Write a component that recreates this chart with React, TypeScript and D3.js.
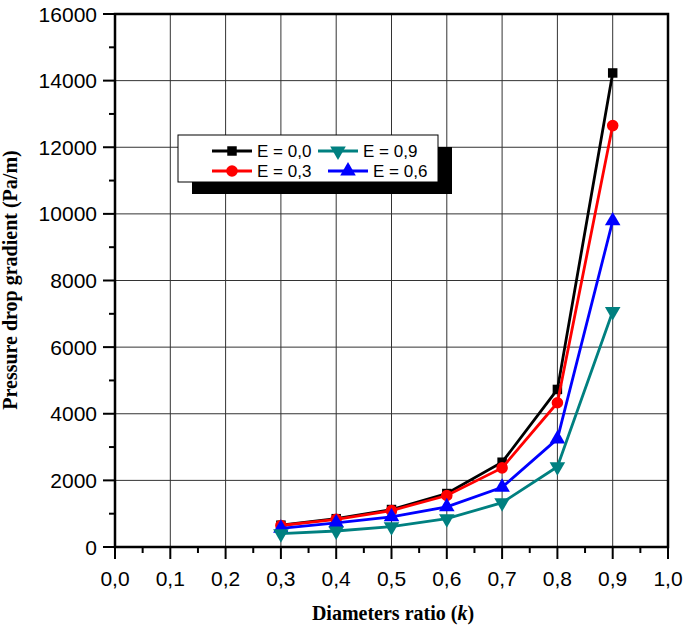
import React from "react";
import * as d3 from "d3";

// diameters ratio k
const kValues = [0.3, 0.4, 0.5, 0.6, 0.7, 0.8, 0.9];

// pressure drop gradient (Pa/m) for each eccentricity
const e00 = [655, 850, 1125, 1605, 2545, 4730, 14230];
const e03 = [645, 830, 1095, 1545, 2375, 4330, 12650];
const e06 = [560, 725, 905, 1205, 1795, 3245, 9790];
const e09 = [400, 480, 610, 850, 1330, 2410, 7070];

const xTicks = [0, 0.1, 0.2, 0.3, 0.4, 0.5, 0.6, 0.7, 0.8, 0.9, 1.0];
const yTicks = [0, 2000, 4000, 6000, 8000, 10000, 12000, 14000, 16000];

const series = [
  { name: "E = 0,0", values: e00, color: "#000000", symbol: d3.symbolSquare, size: 90, rot: 0 },
  { name: "E = 0,3", values: e03, color: "#ff0000", symbol: d3.symbolCircle, size: 105, rot: 0 },
  { name: "E = 0,6", values: e06, color: "#0000ff", symbol: d3.symbolTriangle, size: 105, rot: 0 },
  { name: "E = 0,9", values: e09, color: "#008080", symbol: d3.symbolTriangle, size: 105, rot: 180 },
];

const left = 115, right = 668, top = 14, bottom = 547;
const tickFont = "'Liberation Sans', Arial, sans-serif";
const titleFont = "'Liberation Serif', 'Times New Roman', serif";

const App = () => {
  const x = d3.scaleLinear().domain([0, 1]).range([left, right]);
  const y = d3.scaleLinear().domain([0, 16000]).range([bottom, top]);

  const line = d3.line<number>()
    .x((d, i) => x(kValues[i]))
    .y(d => y(d));

  const minorX = d3.range(0, 21).map(i => i * 0.05);
  const minorY = d3.range(0, 17).map(i => i * 1000);

  const marker = (s, cx, cy, key) => (
    <path
      key={key}
      d={d3.symbol().type(s.symbol).size(s.size)() as string}
      transform={`translate(${cx},${cy}) rotate(${s.rot})`}
      fill={s.color} />
  );

  // legend layout
  const lx = 178, ly = 135, lw = 260, lh = 47;
  const legendItems = [
    { s: series[0], x0: 212, row: 0 },
    { s: series[3], x0: 318, row: 0 },
    { s: series[1], x0: 212, row: 1 },
    { s: series[2], x0: 328, row: 1 },
  ];

  return (
    <svg width={685} height={629} style={{ position: "absolute", left: 0, top: 0 }}>
      <rect width={685} height={629} fill="white" />
      {/* grid */}
      {xTicks.map((t, i) => (
        <line key={"gx" + i} x1={x(t)} x2={x(t)} y1={top} y2={bottom} stroke="#333" strokeWidth={1} />
      ))}
      {yTicks.map((t, i) => (
        <line key={"gy" + i} x1={left} x2={right} y1={y(t)} y2={y(t)} stroke="#333" strokeWidth={1} />
      ))}
      {/* frame */}
      <rect x={left} y={top} width={right - left} height={bottom - top} fill="none" stroke="black" strokeWidth={2.5} />
      {/* ticks */}
      {minorX.map((t, i) => (
        <line key={"tx" + i} x1={x(t)} x2={x(t)} y1={bottom} y2={bottom + (i % 2 === 0 ? 12 : 6)} stroke="black" strokeWidth={2} />
      ))}
      {minorY.map((t, i) => (
        <line key={"ty" + i} x1={left} x2={left - (i % 2 === 0 ? 12 : 6)} y1={y(t)} y2={y(t)} stroke="black" strokeWidth={2} />
      ))}
      {xTicks.map((t, i) => (
        <text key={"lx" + i} x={x(t)} y={586} textAnchor="middle" fontFamily={tickFont} fontSize={21}>
          {d3.format(".1f")(t).replace(".", ",")}
        </text>
      ))}
      {yTicks.map((t, i) => (
        <text key={"ly" + i} x={97} y={y(t)} dy="0.36em" textAnchor="end" fontFamily={tickFont} fontSize={21}>
          {t}
        </text>
      ))}
      {/* axis titles */}
      <text x={393} y={620} textAnchor="middle" fontFamily={titleFont} fontWeight="bold" fontSize={20}>
        Diameters ratio (<tspan fontStyle="italic">k</tspan>)
      </text>
      <text transform="translate(17,280) rotate(-90)" textAnchor="middle" fontFamily={titleFont} fontWeight="bold" fontSize={20}>
        Pressure drop gradient (Pa/m)
      </text>
      {/* series */}
      {series.map((s, si) => (
        <g key={"s" + si}>
          <path d={line(s.values) as string} fill="none" stroke={s.color} strokeWidth={2.8} />
          {s.values.map((v, i) => marker(s, x(kValues[i]), y(v), i))}
        </g>
      ))}
      {/* legend */}
      <rect x={lx + 14} y={ly + 12} width={lw} height={lh} fill="black" />
      <rect x={lx} y={ly} width={lw} height={lh} fill="white" stroke="black" strokeWidth={1} />
      {legendItems.map((it, i) => {
        const cy = it.row === 0 ? 151 : 171;
        return (
          <g key={"lg" + i}>
            <line x1={it.x0} x2={it.x0 + 40} y1={cy} y2={cy} stroke={it.s.color} strokeWidth={2.8} />
            {marker(it.s, it.x0 + 20, cy, "m")}
            <text x={it.x0 + 45} y={cy} dy="0.36em" fontFamily={tickFont} fontSize={17}>{it.s.name}</text>
          </g>
        );
      })}
    </svg>
  );
};

export default App;
